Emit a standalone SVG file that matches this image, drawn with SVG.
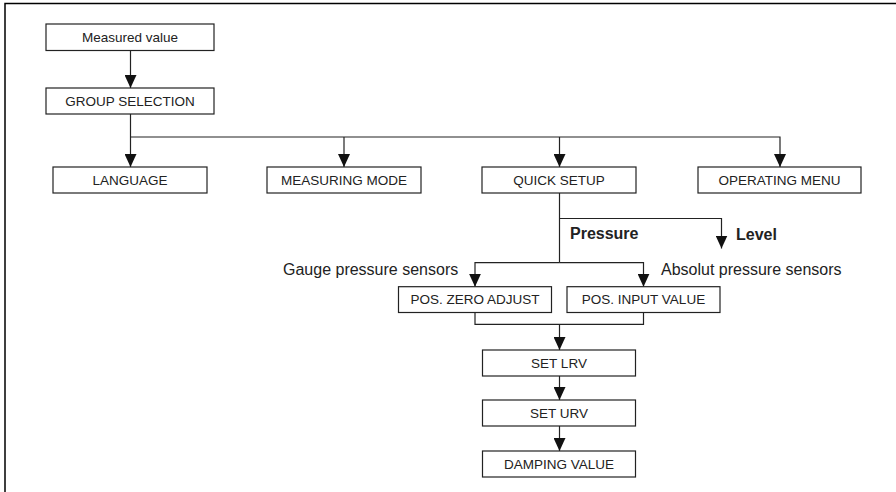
<svg xmlns="http://www.w3.org/2000/svg" width="896" height="492" viewBox="0 0 896 492">
<style>
.box{fill:#fff;stroke:#222;stroke-width:1.2}
.bt{font-family:"Liberation Sans",Arial,sans-serif;font-size:13.5px;fill:#222;text-anchor:middle}
.lbl{font-family:"Liberation Sans",Arial,sans-serif;font-size:16px;fill:#222}
.b{font-weight:bold}
.con{fill:none;stroke:#222;stroke-width:1.2}
.frame{fill:none;stroke:#000;stroke-width:1.5}
</style>
<defs>
<marker id="ah" markerUnits="userSpaceOnUse" markerWidth="13" markerHeight="12" refX="13" refY="6" orient="auto" viewBox="0 0 13 12">
<path d="M0,0 L13,6 L0,12 z" fill="#111"/>
</marker>
</defs>
<path class="frame" d="M5,492 V3.5 H896"/>
<g id="connectors">
<path class="con" d="M130.5,50.5 V88" marker-end="url(#ah)"/>
<path class="con" d="M130.5,114 V167" marker-end="url(#ah)"/>
<path class="con" d="M130.5,137 H780 V167" marker-end="url(#ah)"/>
<path class="con" d="M344,137 V167" marker-end="url(#ah)"/>
<path class="con" d="M559.5,137 V167" marker-end="url(#ah)"/>
<path class="con" d="M559.5,193 V262.7"/>
<path class="con" d="M559.5,218.5 H721.5 V248.5" marker-end="url(#ah)"/>
<path class="con" d="M559.5,262.7 H475 V286.7" marker-end="url(#ah)"/>
<path class="con" d="M559.5,262.7 H643.5 V286.7" marker-end="url(#ah)"/>
<path class="con" d="M475,312.5 V324.3 H643.5 V312.5"/>
<path class="con" d="M559.5,324.3 V350" marker-end="url(#ah)"/>
<path class="con" d="M559.5,376 V400" marker-end="url(#ah)"/>
<path class="con" d="M559.5,426 V451" marker-end="url(#ah)"/>
</g>
<g id="measured-value"><rect class="box" x="46" y="24" width="168" height="26.5"/><text class="bt" x="130" y="42">Measured value</text></g>
<g id="group-selection"><rect class="box" x="46" y="88" width="168" height="26"/><text class="bt" x="130" y="105.8">GROUP SELECTION</text></g>
<g id="language"><rect class="box" x="53" y="167" width="154" height="26"/><text class="bt" x="130" y="184.8">LANGUAGE</text></g>
<g id="measuring-mode"><rect class="box" x="267" y="167" width="154" height="26"/><text class="bt" x="344" y="184.8">MEASURING MODE</text></g>
<g id="quick-setup"><rect class="box" x="482" y="167" width="154" height="26"/><text class="bt" x="559" y="184.8">QUICK SETUP</text></g>
<g id="operating-menu"><rect class="box" x="698" y="167" width="163" height="26"/><text class="bt" x="779.5" y="184.8">OPERATING MENU</text></g>
<g id="label-pressure"><text class="lbl b" x="570" y="239">Pressure</text></g>
<g id="label-level"><text class="lbl b" x="736" y="240">Level</text></g>
<g id="label-gauge"><text class="lbl" x="283" y="274.5">Gauge pressure sensors</text></g>
<g id="label-absolut"><text class="lbl" x="661" y="274.5">Absolut pressure sensors</text></g>
<g id="pos-zero-adjust"><rect class="box" x="398.5" y="286.7" width="153" height="25.8"/><text class="bt" x="475" y="304.4">POS. ZERO ADJUST</text></g>
<g id="pos-input-value"><rect class="box" x="567" y="286.7" width="153" height="25.8"/><text class="bt" x="643.5" y="304.4">POS. INPUT VALUE</text></g>
<g id="set-lrv"><rect class="box" x="482.5" y="350" width="153" height="26"/><text class="bt" x="559" y="367.8">SET LRV</text></g>
<g id="set-urv"><rect class="box" x="482.5" y="400" width="153" height="26"/><text class="bt" x="559" y="417.8">SET URV</text></g>
<g id="damping-value"><rect class="box" x="482.5" y="451" width="153" height="26"/><text class="bt" x="559" y="468.8">DAMPING VALUE</text></g>
</svg>
